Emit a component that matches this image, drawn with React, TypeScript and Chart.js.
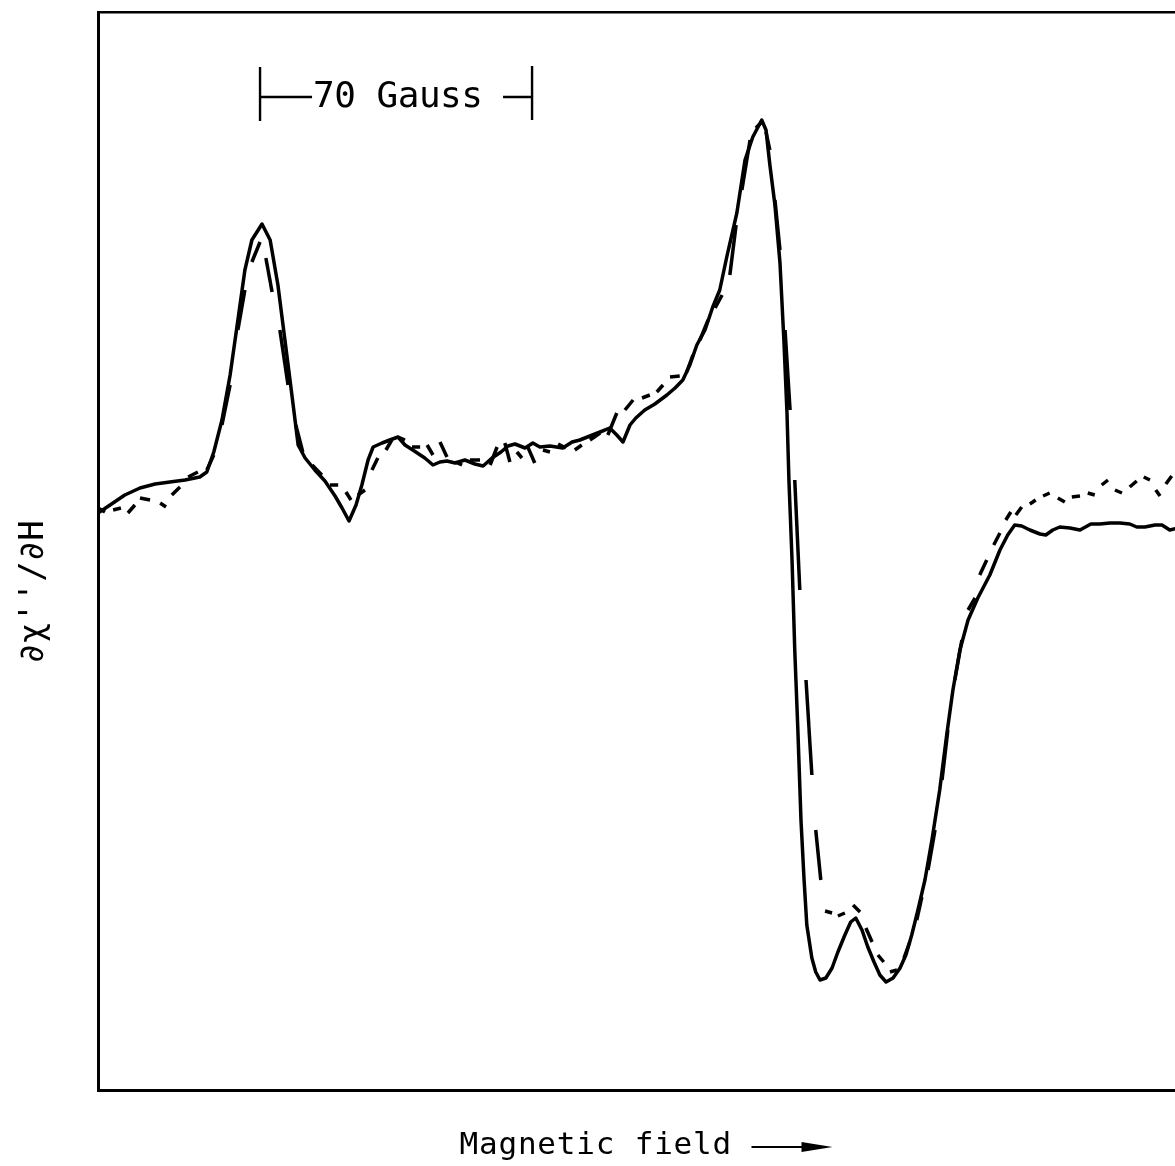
import React, { useEffect, useRef } from "react";
import { Chart, registerables } from "chart.js";

Chart.register(...registerables);

// Magnetic field offset (Gauss) and derivative signal (arbitrary units)
const fieldSolid = [
  0, 3.1, 6.9, 10.8, 14.7, 18.5, 22.4, 26.2, 28.0, 29.8,
  31.9, 34.0, 36.0, 37.8, 39.6, 42.2, 44.3, 46.3, 48.1, 49.9,
  51.5, 53.3, 55.8, 58.4, 61.0, 62.8, 64.6, 66.4, 67.9, 69.5,
  70.8, 73.1, 75.1, 77.2, 79.0, 81.0, 84.1, 86.2, 88.0, 89.8,
  91.9, 94.4, 97.0, 99.1, 101.4, 103.7, 105.5, 107.3, 109.9, 111.9,
  113.7, 116.3, 119.6, 122.0, 124.0, 126.6, 129.2, 131.7, 133.5, 135.1,
  136.9, 138.4, 140.7, 143.3, 146.4, 148.5, 150.5, 152.3, 154.1, 156.2,
  158.2, 160.0, 161.8, 164.4, 166.5, 168.5, 170.8, 171.9, 172.9, 174.2,
  175.5, 176.5, 177.3, 177.8, 178.6, 179.3, 180.1, 180.9, 181.7, 182.4,
  183.7, 184.7, 185.8, 187.3, 188.9, 190.4, 192.2, 193.7, 195.0, 196.6,
  198.1, 199.7, 201.2, 202.8, 204.6, 206.4, 207.9, 209.4, 211.0, 212.8,
  214.6, 216.6, 218.4, 220.0, 221.8, 223.9, 226.4, 229.5, 232.1, 234.1,
  235.9, 237.7, 239.8, 242.4, 243.9, 245.7, 247.5, 250.1, 252.7, 255.5,
  257.8, 260.4, 263.0, 265.5, 267.3, 269.4, 272.0, 273.8, 275.8, 277.9,
];
const signalSolid = [
  577, 585, 595, 602, 606, 608, 610, 613, 618, 638,
  670, 715, 770, 820, 850, 866, 850, 805, 750, 695,
  645, 632, 620, 609, 594, 582, 569, 585, 605, 630,
  643, 647, 650, 653, 645, 640, 632, 625, 628, 629,
  627, 630, 626, 624, 632, 638, 644, 646, 642, 647,
  643, 644, 642, 648, 650, 654, 658, 662, 655, 648,
  665, 672, 680, 686, 695, 702, 710, 725, 745, 760,
  783, 800, 833, 877, 930, 953, 970, 960, 925, 885,
  827, 750, 677, 610, 530, 440, 360, 270, 210, 165,
  132, 118, 110, 112, 122, 138, 155, 168, 172, 160,
  143, 128, 115, 108, 112, 122, 135, 155, 180, 210,
  250, 300, 355, 400, 440, 470, 492, 515, 540, 555,
  565, 564, 560, 556, 555, 560, 563, 562, 560, 566,
  566, 567, 567, 566, 563, 563, 565, 565, 560, 562,
];

const fieldDashed = [
  0.0, 1.8, 3.9, 5.9, 7.7, 9.5, 10.8, 13.4, 16.0, 17.5,
  19.0, 21.1, 23.2, 25.7, 28.0, 29.8, 31.9, 34.0, 36.0, 37.8,
  39.6, 41.7, 43.2, 44.8, 46.8, 48.9, 50.9, 52.7, 55.1, 57.6,
  59.7, 61.8, 63.8, 65.1, 66.9, 68.7, 70.5, 72.0, 74.1, 75.6,
  77.2, 79.0, 80.8, 82.9, 84.7, 86.2, 88.0, 89.8, 91.9, 93.7,
  95.7, 98.3, 100.9, 102.7, 104.7, 106.0, 107.8, 109.1, 110.6, 112.4,
  114.5, 116.3, 118.4, 120.4, 122.7, 124.5, 126.6, 129.2, 131.2, 133.5,
  135.6, 137.7, 140.0, 142.0, 143.8, 145.4, 147.2, 149.7, 151.5, 153.1,
  154.9, 157.0, 158.8, 160.6, 162.6, 164.2, 165.7, 167.8, 169.3, 170.8,
  171.9, 172.9, 174.2, 175.5, 176.8, 178.1, 179.3, 180.6, 182.2, 183.7,
  184.7, 186.0, 187.1, 188.9, 190.4, 192.2, 194.3, 196.1, 197.6, 199.2,
  200.7, 202.2, 203.8, 205.6, 207.4, 208.9, 210.7, 212.0, 213.6, 215.4,
  217.2, 218.7, 220.5, 222.3, 223.9, 225.7, 226.9, 228.7, 230.5, 232.1,
  233.6, 234.9, 236.2, 237.7, 239.8, 241.3, 243.2, 244.9, 247.0, 248.8,
  250.6, 252.7, 254.7, 256.5, 258.3, 259.9, 261.7, 263.5, 265.5, 267.3,
  269.1, 270.7, 272.2, 273.3, 274.8, 276.3, 277.9,
];
const signalDashed = [
  582, 578, 580, 582, 577, 585, 592, 590, 587, 583,
  595, 603, 613, 618, 620, 635, 665, 705, 760, 800,
  828, 848, 832, 798, 760, 705, 665, 638, 625, 615,
  605, 605, 598, 590, 595, 600, 620, 632, 640, 650,
  653, 650, 643, 643, 645, 635, 648, 633, 628, 625,
  630, 630, 625, 643, 647, 628, 638, 632, 643, 627,
  640, 638, 646, 642, 640, 645, 650, 657, 655, 677,
  680, 690, 692, 695, 698, 705, 713, 714, 718, 735,
  750, 770, 782, 795, 815, 865, 900, 950, 962, 968,
  958, 940, 890, 840, 760, 680, 610, 500, 410, 315,
  260, 210, 179, 177, 174, 177, 185, 178, 162, 148,
  135, 128, 118, 120, 132, 148, 170, 193, 220, 260,
  310, 360, 410, 450, 480, 492, 515, 530, 545, 557,
  570, 578, 575, 583, 586, 590, 594, 597, 592, 588,
  593, 594, 597, 595, 605, 610, 600, 597, 603, 609,
  613, 610, 600, 594, 606, 614, 618,
];

const fieldMin = 0;
const fieldMax = 277.15;
const signalMin = 0;
const signalMax = 1078;

const scaleBarStart = 41.7; // Gauss
const scaleBarLength = 70; // Gauss
const scaleBarLabel = "70 Gauss";
const xTitle = "Magnetic field";
const yTitle = "\u2202\u03C7''/\u2202H";

const FONT = "'DejaVu Sans Mono', 'Liberation Mono', monospace";
const W = 1175;
const H = 1166;

export default function App() {
  const ref = useRef<HTMLCanvasElement | null>(null);

  useEffect(() => {
    document.body.style.margin = "0";
    document.body.style.overflow = "hidden";
    const canvas = ref.current;
    if (!canvas) return;

    const annotations = {
      id: "annotations",
      afterDraw(chart: any) {
        const ctx = chart.ctx as CanvasRenderingContext2D;
        const xs = chart.scales.x;
        const area = chart.chartArea;
        ctx.save();
        ctx.strokeStyle = "#000";
        ctx.fillStyle = "#000";

        // scale bar
        const x0 = xs.getPixelForValue(scaleBarStart);
        const x1 = xs.getPixelForValue(scaleBarStart + scaleBarLength);
        const yb = area.top + 85;
        ctx.lineWidth = 2.4;
        ctx.lineCap = "butt";
        ctx.beginPath();
        ctx.moveTo(x0, yb - 30);
        ctx.lineTo(x0, yb + 24);
        ctx.moveTo(x1, yb - 31);
        ctx.lineTo(x1, yb + 23);
        ctx.moveTo(x0, yb);
        ctx.lineTo(x0 + 52, yb);
        ctx.moveTo(x1 - 29, yb);
        ctx.lineTo(x1, yb);
        ctx.stroke();

        ctx.font = `36px ${FONT}`;
        (ctx as any).letterSpacing = "-0.5px";
        ctx.textAlign = "left";
        ctx.textBaseline = "alphabetic";
        ctx.fillText(scaleBarLabel, x0 + 53, yb + 10);

        // x title with arrow
        const cx = (area.left + area.right) / 2;
        ctx.font = `31px ${FONT}`;
        (ctx as any).letterSpacing = "0.8px";
        ctx.fillText(xTitle, cx - 177, area.bottom + 64);
        const ay = area.bottom + 57;
        ctx.lineWidth = 2.2;
        ctx.beginPath();
        ctx.moveTo(cx + 115, ay);
        ctx.lineTo(cx + 172, ay);
        ctx.stroke();
        ctx.beginPath();
        ctx.moveTo(cx + 165, ay - 5);
        ctx.lineTo(cx + 196, ay);
        ctx.lineTo(cx + 165, ay + 5);
        ctx.closePath();
        ctx.fill();

        // y title
        (ctx as any).letterSpacing = "0px";
        ctx.font = `34px ${FONT}`;
        ctx.translate(area.left - 55, (area.top + area.bottom) / 2 + 41);
        ctx.rotate(-Math.PI / 2);
        ctx.textAlign = "center";
        ctx.fillText(yTitle, 0, 0);
        ctx.restore();
      },
    };

    const chart = new Chart(canvas, {
      type: "line",
      data: {
        datasets: [
          {
            label: "solid",
            data: fieldSolid.map((f, i) => ({ x: f, y: signalSolid[i] })),
            borderColor: "#000",
            borderWidth: 3.5,
            pointRadius: 0,
            tension: 0,
            borderJoinStyle: "round",
            borderCapStyle: "round",
            fill: false,
          },
          {
            label: "dashed",
            data: fieldDashed.map((f, i) => ({ x: f, y: signalDashed[i] })),
            borderColor: "#000",
            borderWidth: 3.5,
            pointRadius: 0,
            tension: 0,
            borderCapStyle: "butt",
            fill: false,
            segment: {
              borderColor: (c: any) => (c.p0DataIndex % 2 === 1 ? "rgba(0,0,0,0)" : "#000"),
            },
          },
        ],
      },
      options: {
        responsive: false,
        maintainAspectRatio: false,
        animation: false,
        layout: { padding: { left: 98, top: 12, right: 0, bottom: 76 } },
        plugins: {
          legend: { display: false },
          tooltip: { enabled: false },
        },
        scales: {
          x: {
            type: "linear",
            position: "bottom",
            min: fieldMin,
            max: fieldMax,
            ticks: { display: false },
            grid: { display: false, drawTicks: false },
            border: { display: true, width: 3, color: "#000" },
          },
          xTop: {
            type: "linear",
            axis: "x",
            position: "top",
            min: 0,
            max: 1,
            ticks: { display: false },
            grid: { display: false, drawTicks: false },
            border: { display: true, width: 2.5, color: "#000" },
          },
          y: {
            type: "linear",
            min: signalMin,
            max: signalMax,
            ticks: { display: false },
            grid: { display: false, drawTicks: false },
            border: { display: true, width: 3, color: "#000" },
          },
        },
      } as any,
      plugins: [annotations],
    });

    return () => chart.destroy();
  }, []);

  return (
    <div style={{ width: W, height: H, background: "#fff", overflow: "hidden" }}>
      <canvas ref={ref} width={W} height={H} style={{ display: "block" }} />
    </div>
  );
}
